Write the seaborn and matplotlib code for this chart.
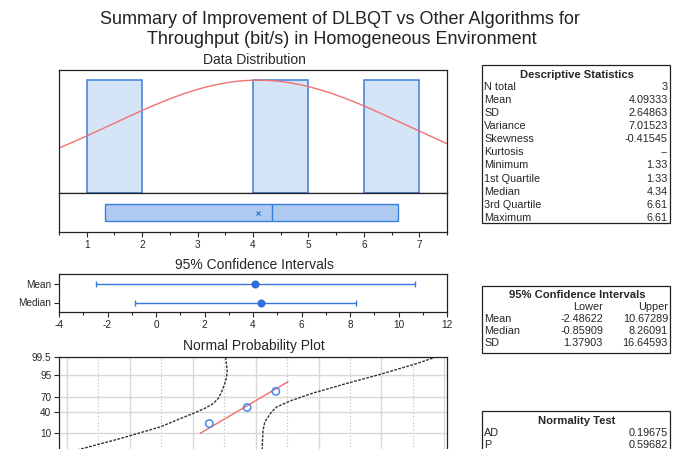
import numpy as np
import pandas as pd
import matplotlib
matplotlib.use("Agg")
import matplotlib.pyplot as plt
import seaborn as sns
from matplotlib.patches import Rectangle
from matplotlib.ticker import MultipleLocator
from statistics import NormalDist

# ---------------- data ----------------
values = [1.33, 4.34, 6.61]
hist_bins = [1, 2, 3, 4, 5, 6, 7]

stat_names = ["N total", "Mean", "SD", "Variance", "Skewness", "Kurtosis",
              "Minimum", "1st Quartile", "Median", "3rd Quartile", "Maximum"]
stat_values = ["3", "4.09333", "2.64863", "7.01523", "-0.41545", "--",
               "1.33", "1.33", "4.34", "6.61", "6.61"]
mean_val = 4.09333
sd_val = 2.64863
box_min, box_q1, box_med, box_q3, box_max = 1.33, 1.33, 4.34, 6.61, 6.61

ci_names = ["Mean", "Median", "SD"]
ci_lower = [-2.48622, -0.85909, 1.37903]
ci_upper = [10.67289, 8.26091, 16.64593]
ci_center = [4.09333, 4.34]

norm_names = ["AD", "P"]
norm_values = ["0.19675", "0.59682"]

prob_percent = [20.6, 50.0, 79.4]          # plotting positions of the 3 points
prob_ticks = [1, 10, 40, 70, 95, 99.5]
fit_percent_range = [9.4, 90.6]

band_left_x = [-11.6, -8.94, -5.77, -2.59, 0.32, 0.98, 1.63, 2.03, 2.17, 2.30,
               2.56, 2.70, 2.75, 2.64, 2.62]
band_left_p = [0.5, 1.66, 5.59, 16.0, 40.9, 48.4, 57.8, 67.5, 73.2, 78.5,
               88.9, 94.0, 97.1, 99.36, 99.5]
band_right_x = [5.50, 5.52, 5.60, 5.74, 6.00, 6.27, 6.67, 7.72, 9.57, 12.2,
                14.87, 17.8, 19.2, 19.35]
band_right_p = [0.5, 1.66, 12.3, 23.1, 31.4, 40.9, 51.0, 62.9, 77.0, 88.9,
                95.4, 98.75, 99.46, 99.5]

# ---------------- style ----------------
sns.set_style("white")
plt.rcParams["font.family"] = ["Liberation Sans", "DejaVu Sans"]
plt.rcParams["axes.linewidth"] = 0.9
plt.rcParams["axes.edgecolor"] = "#222222"
plt.rcParams["axes.unicode_minus"] = False

W, H = 674, 449
fig = plt.figure(figsize=(W / 100, H / 100), dpi=100)


def rect(x0, y0, x1, y1):
    return [x0 / W, 1 - y1 / H, (x1 - x0) / W, (y1 - y0) / H]


def fx(px):
    return px / W


def fy(py):
    return 1 - py / H


nd = NormalDist()
BLUE = "#3b7ddd"
TICK_FS = 7.2
SUB_FS = 10

# title
fig.text(fx(340), fy(19), "Summary of Improvement of DLBQT vs Other Algorithms for",
         ha="center", va="center", fontsize=13, color="#222222")
fig.text(fx(342), fy(40), "Throughput (bit/s) in Homogeneous Environment",
         ha="center", va="center", fontsize=13, color="#222222")

# ---------------- histogram ----------------
ax_h = fig.add_axes(rect(59, 70, 447, 193))
sns.histplot(x=values, bins=hist_bins, ax=ax_h, color="#d6e4f7", alpha=1,
             edgecolor=BLUE, linewidth=1.1)
for p in ax_h.patches:
    if p.get_height() == 0:
        p.set_visible(False)
xs = np.linspace(0.5, 7.5, 300)
curve = np.exp(-0.5 * ((xs - mean_val) / sd_val) ** 2)
sns.lineplot(x=xs, y=curve, ax=ax_h, color="#f07272", linewidth=1.0)
ax_h.set_xlim(0.5, 7.5)
ax_h.set_ylim(0, 1.09)
ax_h.set_xticks([])
ax_h.set_yticks([])
ax_h.set_xlabel("")
ax_h.set_ylabel("")
fig.text(fx(254), fy(60), "Data Distribution", ha="center", va="center",
         fontsize=SUB_FS)

# ---------------- box ----------------
ax_b = fig.add_axes(rect(59, 193, 447, 232))
ax_b.bxp([{"med": box_med, "q1": box_q1, "q3": box_q3, "whislo": box_min,
           "whishi": box_max, "mean": mean_val, "fliers": []}],
         positions=[0], widths=0.42, orientation="horizontal", patch_artist=True,
         showmeans=True, showcaps=False, showfliers=False,
         boxprops=dict(facecolor="#aecaf0", edgecolor=BLUE, linewidth=1.0),
         medianprops=dict(color=BLUE, linewidth=1.0),
         whiskerprops=dict(color=BLUE, linewidth=1.0),
         meanprops=dict(marker="x", markeredgecolor=BLUE, markersize=3.5,
                        markeredgewidth=0.9))
ax_b.set_xlim(0.5, 7.5)
ax_b.set_ylim(-0.5, 0.5)
ax_b.set_yticks([])
ax_b.xaxis.set_minor_locator(MultipleLocator(0.5))
ax_b.set_xticks(range(1, 8))
ax_b.tick_params(axis="x", which="major", length=3.5, width=0.8, labelsize=TICK_FS,
                 pad=2, bottom=True, direction="out")
ax_b.tick_params(axis="x", which="minor", length=2, width=0.8, bottom=True,
                 direction="out")

# ---------------- confidence intervals ----------------
ax_c = fig.add_axes(rect(59, 274, 447, 312))
ci_df = pd.DataFrame({"name": ["Mean", "Median"], "pos": [1, 0],
                      "center": ci_center, "lo": ci_lower[:2], "hi": ci_upper[:2]})
ax_c.errorbar(ci_df["center"], ci_df["pos"],
              xerr=[ci_df["center"] - ci_df["lo"], ci_df["hi"] - ci_df["center"]],
              fmt="none", ecolor="#3377e0", elinewidth=1.0, capsize=2.5,
              capthick=1.0)
sns.scatterplot(data=ci_df, x="center", y="pos", ax=ax_c, color="#2f6fdc",
                s=34, edgecolor="#2f6fdc", linewidth=0, zorder=5)
ax_c.set_xlim(-4, 12)
ax_c.set_ylim(-0.5, 1.5)
ax_c.set_xlabel("")
ax_c.set_ylabel("")
ax_c.xaxis.set_major_locator(MultipleLocator(2))
ax_c.xaxis.set_minor_locator(MultipleLocator(1))
ax_c.set_yticks([1, 0])
ax_c.set_yticklabels(["Mean", "Median"])
ax_c.tick_params(axis="both", which="major", length=3.5, width=0.8,
                 labelsize=TICK_FS, pad=2, bottom=True, left=True, direction="out")
ax_c.tick_params(axis="x", which="minor", length=2, width=0.8, bottom=True,
                 direction="out")
fig.text(fx(254), fy(265), "95% Confidence Intervals", ha="center", va="center",
         fontsize=SUB_FS)

# ---------------- normal probability plot ----------------
ax_p = fig.add_axes(rect(59, 357, 447, 458))
zlo, zhi = nd.inv_cdf(0.005), nd.inv_cdf(0.995)
ax_p.set_xlim(-10.6, 20.2)
ax_p.set_ylim(zlo, zhi)
ax_p.xaxis.set_major_locator(MultipleLocator(5))
ax_p.xaxis.set_minor_locator(MultipleLocator(2.5))
ax_p.grid(True, which="major", axis="both", color="#d8d8d8", linewidth=1.0)
ax_p.grid(True, which="minor", axis="x", color="#b8b8b8", linewidth=0.8,
          linestyle=(0, (1, 2)))
ax_p.set_axisbelow(True)
ax_p.set_yticks([nd.inv_cdf(p / 100) for p in prob_ticks])
ax_p.set_yticklabels([f"{p:g}" for p in prob_ticks])
ax_p.tick_params(axis="y", which="major", length=3.5, width=0.8, labelsize=TICK_FS,
                 pad=2, left=True, direction="out")
ax_p.tick_params(axis="x", which="both", bottom=False, labelbottom=False)

bl = pd.DataFrame({"x": band_left_x, "z": [nd.inv_cdf(p / 100) for p in band_left_p]})
br = pd.DataFrame({"x": band_right_x, "z": [nd.inv_cdf(p / 100) for p in band_right_p]})
for d in (bl, br):
    sns.lineplot(data=d, x="x", y="z", ax=ax_p, sort=False, estimator=None,
                 color="#333333", linewidth=1.0, linestyle=(0, (2, 1)))

fz = np.array([nd.inv_cdf(p / 100) for p in fit_percent_range])
sns.lineplot(x=mean_val + sd_val * fz, y=fz, ax=ax_p, color="#f26b6b", linewidth=1.0)
pz = [nd.inv_cdf(p / 100) for p in prob_percent]
sns.scatterplot(x=values, y=pz, ax=ax_p, s=28, facecolor="none",
                edgecolor="#4a86e8", linewidth=1.1, zorder=5)
ax_p.set_xlabel("")
ax_p.set_ylabel("")
for s in ax_p.spines.values():
    s.set_zorder(6)
fig.text(fx(254), fy(346), "Normal Probability Plot", ha="center", va="center",
         fontsize=SUB_FS)

# ---------------- tables ----------------
TFS = 7.8
TX0, TX1 = 482, 670


def box(y0, y1):
    fig.patches.append(Rectangle((fx(TX0), fy(y1)), (TX1 - TX0) / W, (y1 - y0) / H,
                                 transform=fig.transFigure, fill=False,
                                 edgecolor="#222222", linewidth=0.9))


# descriptive statistics
box(65, 223)
fig.text(fx(577), fy(75), "Descriptive Statistics", ha="center", va="center",
         fontsize=TFS + 0.3, fontweight="bold")
for i, (n, v) in enumerate(zip(stat_names, stat_values)):
    y = 86.5 + 13.15 * i
    fig.text(fx(TX0 + 2), fy(y), n, ha="left", va="center", fontsize=TFS)
    fig.text(fx(TX1 - 2), fy(y), v, ha="right", va="center", fontsize=TFS)

# confidence intervals table
box(286, 353)
fig.text(fx(577), fy(295), "95% Confidence Intervals", ha="center", va="center",
         fontsize=TFS + 0.3, fontweight="bold")
fig.text(fx(603), fy(307), "Lower", ha="right", va="center", fontsize=TFS)
fig.text(fx(TX1 - 2), fy(307), "Upper", ha="right", va="center", fontsize=TFS)
for i, n in enumerate(ci_names):
    y = 319.5 + 11.8 * i
    fig.text(fx(TX0 + 2), fy(y), n, ha="left", va="center", fontsize=TFS)
    fig.text(fx(603), fy(y), f"{ci_lower[i]:.5f}", ha="right", va="center", fontsize=TFS)
    fig.text(fx(TX1 - 2), fy(y), f"{ci_upper[i]:.5f}", ha="right", va="center",
             fontsize=TFS)

# normality test
box(411, 470)
fig.text(fx(577), fy(421), "Normality Test", ha="center", va="center",
         fontsize=TFS + 0.3, fontweight="bold")
for i, (n, v) in enumerate(zip(norm_names, norm_values)):
    y = 433 + 12 * i
    fig.text(fx(TX0 + 2), fy(y), n, ha="left", va="center", fontsize=TFS)
    fig.text(fx(TX1 - 2), fy(y), v, ha="right", va="center", fontsize=TFS)

fig.savefig("out.png", dpi=100)
